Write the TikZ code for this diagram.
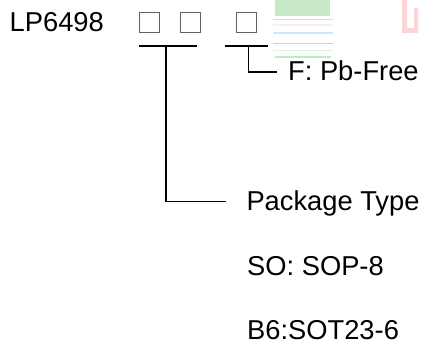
\documentclass[tikz,border=0pt]{standalone}
\usepackage{fontspec}
\setmainfont{Liberation Sans}
\begin{document}
\begin{tikzpicture}[x=1pt,y=-1pt,
  lbl/.style={anchor=base west,inner sep=0pt,font=\fontsize{27.3}{31}\selectfont},
  slot/.style={draw=black!62,line width=0.9pt,minimum width=20pt,minimum height=20pt,inner sep=0pt},
  bar/.style={line width=1.3pt,black},
  wm/.style={line width=1.6pt}]
\useasboundingbox (0,0) rectangle (425,345);
% faint watermark
\fill[green!60!black,opacity=0.22] (275,0) rectangle (330,16);
\draw[wm,red!80,opacity=0.25] (273,19.5) -- (333,19.5);
\draw[wm,red!50,opacity=0.15] (273,25) -- (333,25);
\draw[wm,cyan!70!blue,opacity=0.2] (273,33) -- (333,33);
\draw[wm,blue!70!cyan,opacity=0.25] (273,43.5) -- (333,43.5);
\draw[wm,green!70!black,opacity=0.15] (273,50.5) -- (333,50.5);
\draw[wm,green!70!black,opacity=0.25] (275,57) -- (331,57);
\fill[red!80,opacity=0.2] (402,0) rectangle (407,33) (407,28) rectangle (418,33) (414,8) rectangle (418,28);
% labels
\node[lbl] (pn) at (9.5,31.9) {LP6498};
\node[slot] (s1) at (149.3,22.7) {};
\node[slot] (s2) at (190,22.7) {};
\node[slot] (s3) at (246.7,22.7) {};
\node[lbl] (pbf) at (288,80.7) {F: Pb-Free};
\node[lbl] (pkg) at (246.3,210.9) {Package Type};
\node[lbl] (so) at (247,275.2) {SO: SOP-8};
\node[lbl] (b6) at (247,339.5) {B6:SOT23-6};
% connectors
\coordinate (b1l) at (138.5,46);
\coordinate (b1r) at (196.7,46);
\coordinate (j1) at (166,46);
\coordinate (e1) at (226,201.3);
\coordinate (b2l) at (225,46);
\coordinate (b2r) at (267.5,46);
\coordinate (j2) at (248.5,46);
\coordinate (e2) at (277,72);
\draw[bar] (b1l) -- (b1r);
\draw[bar] (b2l) -- (b2r);
\draw[bar] (j1) |- (e1);
\draw[bar] (j2) |- (e2);
\end{tikzpicture}
\end{document}
